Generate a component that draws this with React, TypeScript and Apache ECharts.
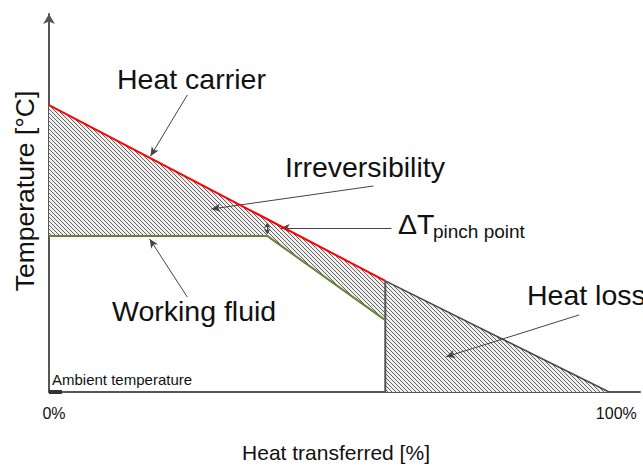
import React, { useEffect, useRef } from "react";
import * as echarts from "echarts";

// x: heat transferred [%], y: temperature (arbitrary units, ambient = 0)
const heatCarrierX = [0, 59.8];
const heatCarrierT = [75.9, 29.4];
const workingFluidX = [0, 38.8, 59.8];
const workingFluidT = [41.3, 41.3, 19.0];
const heatLossX = [59.8, 99.6];
const heatLossT = [29.4, 0];
const ambientX = [0, 2.3];
const ambientT = [0, 0];
const xTickLabels: Record<number, string> = { 0: "0%", 100: "100%" };

// annotation arrows [from, to] in data coords
const arrowHeatCarrier = [[24.6, 78.6], [18.05, 62.4]];
const arrowIrrev = [[57.7, 54.5], [28.85, 48.4]];
const arrowPinch = [[60.9, 43.4], [41.2, 43.4]];
const arrowPinchDouble = [[38.8, 44.7], [38.8, 41.8]];
const arrowWorking = [[24.6, 25.1], [17.9, 40.5]];
const arrowHeatLoss = [[94.3, 20.4], [70.6, 9.3]];

const FONT = "Liberation Sans, Arial, sans-serif";

const zip = (xs: number[], ys: number[]) => xs.map((x, i) => [x, ys[i]]);

export default function App() {
  const ref = useRef<HTMLDivElement>(null);
  useEffect(() => {
    if (!ref.current) return;
    const chart = echarts.init(ref.current, null, { renderer: "svg" });

    const s = 4;
    const tile = document.createElement("canvas");
    tile.width = s;
    tile.height = s;
    const c = tile.getContext("2d")!;
    c.fillStyle = "#f0f0f0";
    c.fillRect(0, 0, s, s);
    c.strokeStyle = "#626262";
    c.lineWidth = 1;
    for (let k = -1; k <= 1; k++) {
      c.beginPath();
      c.moveTo(k * s, 0);
      c.lineTo(k * s + s, s);
      c.stroke();
    }
    const pattern: any = { image: tile, repeat: "repeat", imageWidth: s, imageHeight: s };

    const region1 = [
      ...zip(heatCarrierX, heatCarrierT),
      ...zip(workingFluidX, workingFluidT).reverse(),
    ];
    const region2 = [...zip(heatLossX, heatLossT), [heatLossX[0], 0]];

    const polySeries = (pts: number[][]) => ({
      type: "custom",
      silent: true,
      data: pts,
      renderItem: (params: any, api: any) => {
        if (params.dataIndex !== 0) return null;
        return {
          type: "polygon",
          shape: { points: pts.map((p) => api.coord(p)) },
          style: { fill: pattern, stroke: "none" },
        };
      },
      z: 1,
    });

    const arrowLine = (a: number[][], sym: any, size: any) => ({
      silent: true,
      symbol: sym,
      symbolSize: size,
      label: { show: false },
      lineStyle: { color: "#444", width: 1, type: "solid" },
      data: [[{ coord: a[0] }, { coord: a[1] }]],
    });

    const arrowSeries = (a: number[][], sym: any, size: any) => ({
      type: "line",
      data: [],
      symbol: "none",
      z: 7,
      markLine: arrowLine(a, sym, size),
    });

    const text = (t: string, x: number, y: number, size: number) => ({
      type: "text",
      x,
      y,
      style: {
        text: t,
        fontSize: size,
        fontFamily: FONT,
        fill: "#111",
        align: "left",
        verticalAlign: "middle",
      },
    });

    chart.setOption({
      animation: false,
      grid: { left: 49, right: 0, top: 14, bottom: 74 },
      xAxis: {
        type: "value",
        min: 0,
        max: 105.1,
        interval: 100,
        splitLine: { show: false },
        axisTick: { show: false },
        axisLine: { lineStyle: { color: "#555", width: 2 } },
        axisLabel: {
          margin: 13,
          fontSize: 16,
          fontFamily: FONT,
          color: "#111",
          padding: [0, 0, 0, 10],
          formatter: (v: number) => xTickLabels[v] ?? "",
        },
      },
      yAxis: {
        type: "value",
        min: 0,
        max: 100,
        splitLine: { show: false },
        axisTick: { show: false },
        axisLabel: { show: false },
        axisLine: {
          show: true,
          symbol: ["none", "arrow"],
          symbolSize: [9, 10],
          lineStyle: { color: "#555", width: 2 },
        },
      },
      series: [
        polySeries(region1),
        polySeries(region2),
        {
          type: "line",
          data: zip(heatLossX, heatLossT),
          symbol: "none",
          lineStyle: { color: "#444", width: 1.5 },
          z: 3,
        },
        {
          type: "line",
          data: [[heatLossX[0], heatLossT[0]], [heatLossX[0], 0]],
          symbol: "none",
          lineStyle: { color: "#555", width: 2 },
          z: 3,
        },
        {
          type: "line",
          data: zip(workingFluidX, workingFluidT),
          symbol: "none",
          lineStyle: { color: "#6e7d3c", width: 2 },
          z: 4,
        },
        {
          type: "line",
          data: zip(heatCarrierX, heatCarrierT),
          symbol: "none",
          lineStyle: { color: "#ff0000", width: 2 },
          z: 5,
        },
        {
          type: "line",
          data: zip(ambientX, ambientT),
          symbol: "none",
          lineStyle: { color: "#333", width: 4 },
          z: 6,
        },
        arrowSeries(arrowHeatCarrier, ["none", "arrow"], [6, 9]),
        arrowSeries(arrowIrrev, ["none", "arrow"], [6, 9]),
        arrowSeries(arrowPinch, ["none", "arrow"], [6, 9]),
        arrowSeries(arrowPinchDouble, ["arrow", "arrow"], [5, 5]),
        arrowSeries(arrowWorking, ["none", "arrow"], [6, 9]),
        arrowSeries(arrowHeatLoss, ["none", "arrow"], [6, 9]),
      ],
      graphic: [
        text("Heat carrier", 117, 79, 28.5),
        text("Irreversibility", 285, 167, 28.5),
        text("ΔT", 398, 224, 28.5),
        text("pinch point", 433, 231.5, 19),
        text("Working fluid", 112, 311, 28.5),
        text("Heat loss", 527, 295, 28.5),
        text("Ambient temperature", 52, 379.5, 15),
        {
          type: "text",
          x: 336,
          y: 452,
          style: {
            text: "Heat transferred [%]",
            fontSize: 21,
            fontFamily: FONT,
            fill: "#111",
            align: "center",
            verticalAlign: "middle",
          },
        },
        {
          type: "text",
          x: 25,
          y: 191,
          rotation: Math.PI / 2,
          style: {
            text: "Temperature [°C]",
            fontSize: 26.5,
            fontFamily: FONT,
            fill: "#111",
            align: "center",
            verticalAlign: "middle",
          },
        },
      ],
    });
    return () => chart.dispose();
  }, []);
  return <div ref={ref} style={{ width: 643, height: 466, position: "absolute", left: 0, top: 0 }} />;
}
